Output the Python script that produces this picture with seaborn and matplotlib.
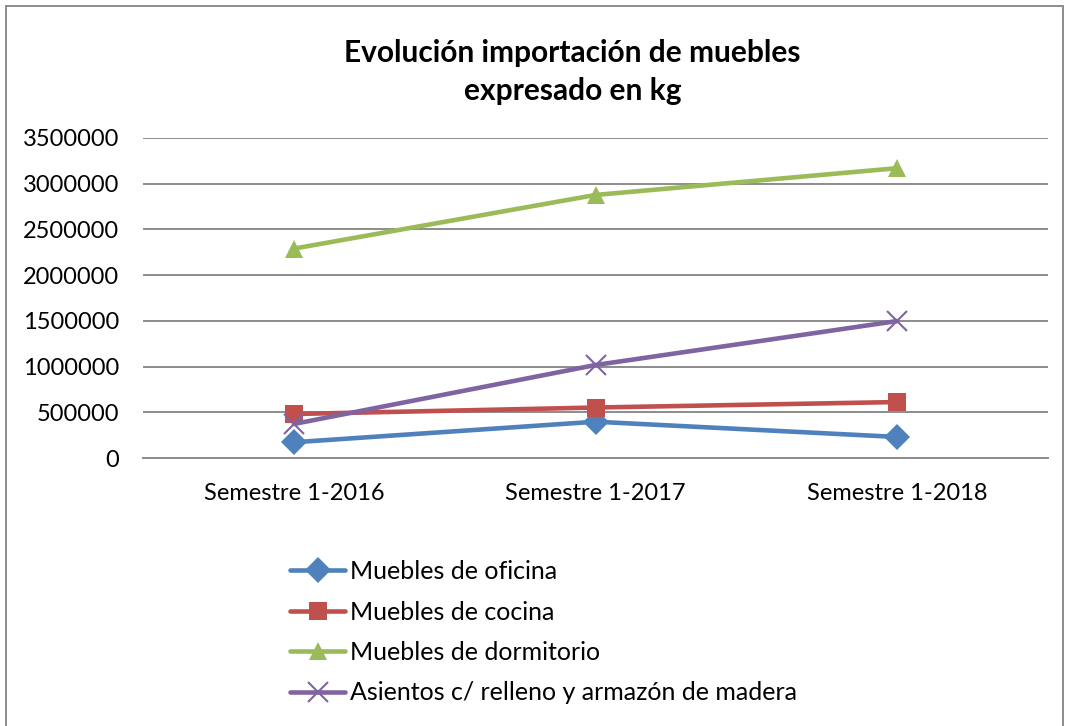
import matplotlib
matplotlib.use("Agg")
import matplotlib.pyplot as plt
import matplotlib.patches as patches
import pandas as pd
import seaborn as sns

semestres = ["Semestre 1-2016", "Semestre 1-2017", "Semestre 1-2018"]
series = [
    "Muebles de oficina",
    "Muebles de cocina",
    "Muebles de dormitorio",
    "Asientos c/ relleno y armazón de madera",
]
oficina = [172000, 397000, 230000]
cocina = [481000, 552000, 612000]
dormitorio = [2290000, 2877000, 3170000]
asientos = [372000, 1017000, 1498000]
y_ticks = [0, 500000, 1000000, 1500000, 2000000, 2500000, 3000000, 3500000]

colores = ["#4F81BD", "#C0504D", "#9BBB59", "#8064A2"]
marcadores = ["D", "s", "^", "x"]

df = pd.DataFrame({
    "semestre": semestres * 4,
    "kg": oficina + cocina + dormitorio + asientos,
    "serie": [s for s in series for _ in semestres],
})

sns.set_style("white")
plt.rcParams["font.family"] = ["Lato", "DejaVu Sans"]
plt.rcParams["text.color"] = "black"

fig = plt.figure(figsize=(10.68, 7.26), dpi=100)
ax = fig.add_axes([143 / 1068, 1 - 458 / 726, 905 / 1068, 320 / 726])

for nombre, color, m in zip(series, colores, marcadores):
    sub = df[df["serie"] == nombre]
    sns.lineplot(data=sub, x="semestre", y="kg", ax=ax, color=color,
                 marker=m, markersize=13.5 if m != "x" else 14,
                 markeredgewidth=1.5 if m == "x" else 0,
                 markeredgecolor=color, linewidth=3.3, label=nombre)

ax.set_xlim(-0.5, 2.5)
ax.set_ylim(0, 3500000)
ax.set_yticks(y_ticks)
ax.ticklabel_format(axis="y", style="plain")
ax.grid(axis="y", color="#8c8c8c", linewidth=1.4)
ax.set_axisbelow(True)
for s in ["top", "right", "left"]:
    ax.spines[s].set_visible(False)
ax.spines["bottom"].set_color("#8c8c8c")
ax.spines["bottom"].set_linewidth(1.4)
ax.tick_params(axis="both", length=0, labelsize=17, colors="black")
ax.tick_params(axis="y", pad=17)
ax.tick_params(axis="x", pad=18)
ax.set_xlabel("")
ax.set_ylabel("")

fig.text(0.536, 1 - 72 / 726, "Evolución importación de muebles\nexpresado en kg",
         ha="center", va="center", fontsize=21.5, fontweight="bold",
         linespacing=1.45, color="black")

ax.legend_.remove()
handles, labels = ax.get_legend_handles_labels()
fig.legend(handles, labels, loc="upper left",
           bbox_to_anchor=(290 / 1068, 1 - 560 / 726), frameon=False,
           fontsize=18, handlelength=2.2, handletextpad=0.2,
           labelspacing=0.7, borderaxespad=0, borderpad=0,
           labelcolor="black")

fig.patches.append(patches.Rectangle((6 / 1068, -0.05), 1057 / 1068, 1.05 - 6 / 726,
                                     transform=fig.transFigure, fill=False,
                                     edgecolor="#8c8c8c", linewidth=1.4))

fig.savefig("out.png", dpi=100)
